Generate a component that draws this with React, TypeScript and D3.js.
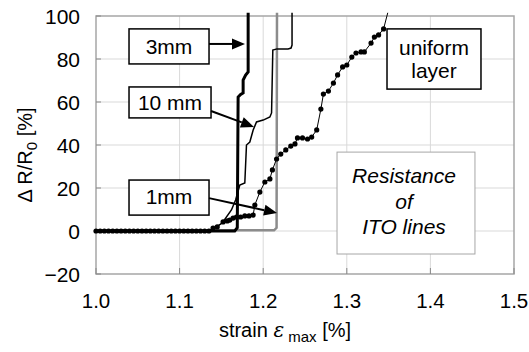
import * as d3 from 'd3';

// x ticks and y ticks
const xTicks = [1.0, 1.1, 1.2, 1.3, 1.4, 1.5];
const yTicks = [-20, 0, 20, 40, 60, 80, 100];

// 3mm line (thick black)
const x3mm = [1.0, 1.166, 1.169, 1.170, 1.173, 1.176, 1.176, 1.179, 1.182, 1.182];
const y3mm = [0, 0, 1.5, 62.3, 63.5, 64.2, 70.2, 72.5, 74.0, 101.5];

// 10 mm line (thin black)
const x10mm = [1.0, 1.136, 1.151, 1.162, 1.167, 1.172, 1.178, 1.180, 1.184, 1.188, 1.192, 1.200, 1.208, 1.210, 1.2115, 1.2165, 1.2297, 1.2333, 1.2345, 1.2345];
const y10mm = [0, 0, 3.7, 9.8, 14.4, 21.4, 22.3, 40, 41.4, 47, 50.7, 51.6, 53, 54.9, 84.2, 84.7, 84.7, 85.1, 86.5, 101.5];

// 1mm line (gray)
const x1mm = [1.0, 1.213, 1.216, 1.2165];
const y1mm = [0.3, 0.3, 1.5, 101.5];

// uniform layer (dots + thin line)
const xUniform = [
  1.0, 1.005, 1.01, 1.015, 1.02, 1.025, 1.03, 1.035, 1.04, 1.045, 1.05, 1.055, 1.06, 1.065,
  1.07, 1.075, 1.08, 1.085, 1.09, 1.095, 1.1, 1.105, 1.11, 1.115, 1.12, 1.125, 1.13, 1.135,
  1.140, 1.145, 1.152, 1.157, 1.160, 1.164, 1.168, 1.173, 1.178, 1.183, 1.188, 1.190, 1.196,
  1.202, 1.208, 1.211, 1.216, 1.221, 1.227, 1.233, 1.238, 1.241, 1.247, 1.253, 1.258, 1.264,
  1.269, 1.272, 1.278, 1.284, 1.289, 1.295, 1.300, 1.306, 1.311, 1.317, 1.321, 1.329, 1.333,
  1.338, 1.344,
];
const yUniform = [
  0, 0, 0, 0, 0, 0, 0, 0, 0, 0, 0, 0, 0, 0,
  0, 0, 0, 0, 0, 0, 0, 0, 0, 0, 0, 0, 0, 0,
  1.4, 1.9, 4.2, 4.7, 5.1, 6.0, 6.5, 6.5, 7.0, 7.0, 7.4, 12.1, 18.1,
  22.8, 24.2, 28.4, 33.5, 35.8, 37.7, 39.5, 40.5, 43.3, 43.3, 42.8, 43.7, 47.0,
  56.7, 63.7, 65.1, 68.8, 72.6, 76.3, 77.2, 80.9, 82.8, 83.3, 83.3, 87.4, 90.2,
  91.2, 94.0,
];
const uniformTail = [1.349, 101.5];

const W = 529;
const H = 352;
const margin = { left: 96, right: 15, top: 16, bottom: 78 };
const font = 'Arial, "Liberation Sans", sans-serif';

const x = d3.scaleLinear().domain([1.0, 1.5]).range([margin.left, W - margin.right]);
const y = d3.scaleLinear().domain([-20, 100]).range([H - margin.bottom, margin.top]);

const zip = (xs: number[], ys: number[]) => xs.map((v, i) => [v, ys[i]] as [number, number]);
const line = d3.line<[number, number]>().x(d => x(d[0])).y(d => y(d[1]));

// annotation boxes, in data units
const labelBoxes = [
  { lines: ['3mm'], x0: 1.0395, x1: 1.1352, y0: 94.0, y1: 77.7, base: [54] },
  { lines: ['10 mm'], x0: 1.0395, x1: 1.1376, y0: 67.0, y1: 52.6, base: [110] },
  { lines: ['1mm'], x0: 1.0395, x1: 1.1352, y0: 23.7, y1: 7.4, base: [204] },
  { lines: ['uniform', 'layer'], x0: 1.3481, x1: 1.4605, y0: 94.0, y1: 66.0, base: [55, 78] },
];
const arrows = [
  { from: [1.1352, 87.0], to: [1.1782, 87.0] },
  { from: [1.1376, 55.8], to: [1.189, 48.4] },
  { from: [1.1352, 15.3], to: [1.2165, 8.4] },
];

function Arrow({ from, to }: { from: number[]; to: number[] }) {
  const x1 = x(from[0]), y1 = y(from[1]), x2 = x(to[0]), y2 = y(to[1]);
  const ang = Math.atan2(y2 - y1, x2 - x1);
  const len = 13, half = 5.5;
  const bx = x2 - len * Math.cos(ang), by = y2 - len * Math.sin(ang);
  const px = -Math.sin(ang) * half, py = Math.cos(ang) * half;
  return (
    <g>
      <line x1={x1} y1={y1} x2={bx} y2={by} stroke="#000" strokeWidth={2} />
      <polygon points={`${x2},${y2} ${bx + px},${by + py} ${bx - px},${by - py}`} fill="#000" />
    </g>
  );
}

export default function App() {
  const px0 = x(1.0), px1 = x(1.5), py0 = y(100), py1 = y(-20);
  return (
    <svg width={W} height={H} style={{ position: 'absolute', left: 0, top: 0, background: '#fff' }} fontFamily={font}>
      {/* grid */}
      {xTicks.slice(1, -1).map(t => (
        <line key={'gx' + t} x1={x(t)} x2={x(t)} y1={py0} y2={py1} stroke="#d9d9d9" strokeWidth={1} />
      ))}
      {yTicks.slice(1, -1).map(t => (
        <line key={'gy' + t} x1={px0} x2={px1} y1={y(t)} y2={y(t)} stroke="#d9d9d9" strokeWidth={1} />
      ))}
      <rect x={px0} y={py0} width={px1 - px0} height={py1 - py0} fill="none" stroke="#a6a6a6" strokeWidth={1.5} />
      {/* inside ticks */}
      {yTicks.map(t => (
        <line key={'ty' + t} x1={px0} x2={px0 + 5} y1={y(t)} y2={y(t)} stroke="#888" strokeWidth={1} />
      ))}
      {xTicks.map(t => (
        <line key={'tx' + t} x1={x(t)} x2={x(t)} y1={py1} y2={py1 - 6} stroke="#888" strokeWidth={1} />
      ))}
      {/* tick labels */}
      {yTicks.map(t => (
        <text key={'ly' + t} x={80} y={y(t)} dy="0.36em" textAnchor="end" fontSize={21} fill="#000">
          {t < 0 ? '\u2212' + Math.abs(t) : t}
        </text>
      ))}
      {xTicks.map(t => (
        <text key={'lx' + t} x={x(t)} y={308} textAnchor="middle" fontSize={20.5} fill="#000">
          {t.toFixed(1)}
        </text>
      ))}
      {/* axis titles */}
      <text x={285} y={337} textAnchor="middle" fontSize={20} fill="#000">
        strain <tspan fontStyle="italic" fontFamily='"DejaVu Serif", serif'>ε</tspan>
        <tspan fontSize={15} dy={5}> max</tspan>
        <tspan dy={-5}> [%]</tspan>
      </text>
      <text transform="translate(32,155) rotate(-90)" textAnchor="middle" fontSize={20} fill="#000">
        Δ R/R<tspan fontSize={15} dy={5}>0</tspan>
        <tspan dy={-5}> [%]</tspan>
      </text>

      {/* resistance box */}
      <rect x={x(1.2883)} y={y(36.7)} width={x(1.4533) - x(1.2883)} height={y(-10.7) - y(36.7)} fill="#fff" stroke="#a6a6a6" strokeWidth={1} />
      {['Resistance', 'of', 'ITO lines'].map((s, i) => (
        <text key={s} x={404} y={183 + i * 25.5} textAnchor="middle" fontSize={21} fontStyle="italic" fill="#000">
          {s}
        </text>
      ))}

      {/* series */}
      <path d={line(zip(x1mm, y1mm)) || ''} fill="none" stroke="#8c8c8c" strokeWidth={2.5} />
      <path d={line(zip(x3mm, y3mm)) || ''} fill="none" stroke="#000" strokeWidth={3} />
      <path d={line(zip(x10mm, y10mm)) || ''} fill="none" stroke="#000" strokeWidth={1.5} />
      <path d={line([...zip(xUniform, yUniform), uniformTail as [number, number]]) || ''} fill="none" stroke="#000" strokeWidth={1} />
      {zip(xUniform, yUniform).map((d, i) => (
        <circle key={'u' + i} cx={x(d[0])} cy={y(d[1])} r={2.6} fill="#000" />
      ))}

      {/* label boxes */}
      {labelBoxes.map((b, i) => (
        <g key={'b' + i}>
          <rect x={x(b.x0)} y={y(b.y0)} width={x(b.x1) - x(b.x0)} height={y(b.y1) - y(b.y0)} fill="#fff" stroke="#000" strokeWidth={1.5} />
          {b.lines.map((s, j) => (
            <text key={s} x={(x(b.x0) + x(b.x1)) / 2} y={b.base[j]} textAnchor="middle" fontSize={21} fill="#000">
              {s}
            </text>
          ))}
        </g>
      ))}
      {arrows.map((a, i) => (
        <Arrow key={'a' + i} from={a.from} to={a.to} />
      ))}
    </svg>
  );
}
